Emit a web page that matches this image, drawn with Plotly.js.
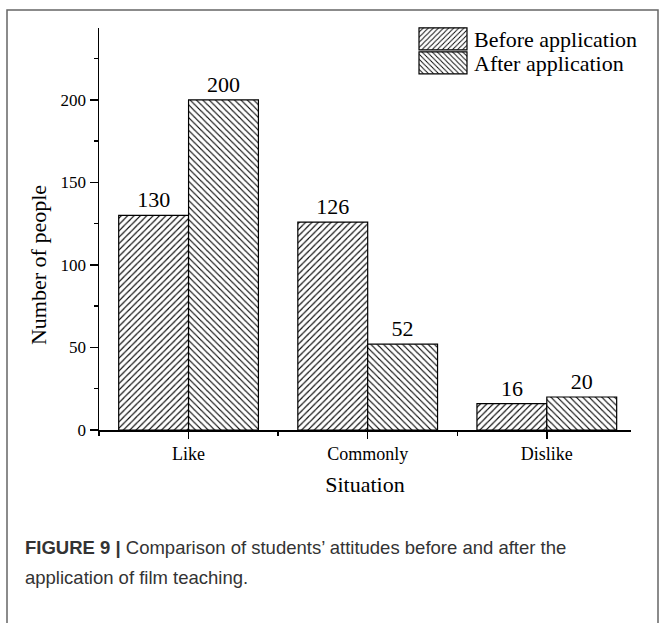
<!DOCTYPE html>
<html>
<head>
<meta charset="utf-8">
<script src="https://cdn.plot.ly/plotly-3.0.1.min.js"></script>
<style>html,body{margin:0;padding:0;background:#fff;}#chart{width:659px;height:623px;}</style>
</head>
<body>
<div id="chart"></div>
<script>
// ---- data ----
const categories = ['Like', 'Commonly', 'Dislike'];
const seriesNames = ['Before application', 'After application'];
const beforeValues = [130, 126, 16];
const afterValues = [200, 52, 20];
const yTickVals = [0, 50, 100, 150, 200];
const captionBold = 'FIGURE 9 |';
const captionLine1 = 'Comparison of students\u2019 attitudes before and after the';
const captionLine2 = 'application of film teaching.';
const xTitle = 'Situation';
const yTitle = 'Number of people';

// ---- layout geometry ----
const W = 659, H = 623;
const M = {l: 99, r: 28, t: 28, b: 193};
const PW = W - M.l - M.r, PH = H - M.t - M.b;
const px2x = p => (p - M.l) / PW;
const py2y = p => (H - M.b - p) / PH;

const serif = 'Liberation Serif, Times New Roman, serif';
const sans = 'Liberation Sans, Arial, sans-serif';
const xIdx = categories.map((c, i) => i);

function barTrace(name, vals, shape) {
  return {
    type: 'bar', name: name, x: xIdx, y: vals,
    text: vals.map(String), textposition: 'outside', cliponaxis: false,
    textfont: {family: serif, size: 22, color: '#000'},
    marker: {
      color: 'white',
      line: {color: '#000', width: 1.2},
      pattern: {shape: shape, fgcolor: '#000', bgcolor: 'white', size: 4.5, solidity: 0.25, fillmode: 'replace'}
    },
    hoverinfo: 'skip'
  };
}

const data = [
  barTrace(seriesNames[0], beforeValues, '/'),
  barTrace(seriesNames[1], afterValues, '\\')
];

const layout = {
  width: W, height: H,
  margin: M,
  paper_bgcolor: 'white', plot_bgcolor: 'white',
  barmode: 'group', bargap: 0.22, bargroupgap: 0,
  showlegend: true,
  legend: {
    x: px2x(412), y: py2y(18), xanchor: 'left', yanchor: 'top',
    font: {family: serif, size: 22, color: '#000'},
    bgcolor: 'rgba(0,0,0,0)', borderwidth: 0,
    itemwidth: 52, tracegroupgap: 0, itemclick: false
  },
  xaxis: {
    range: [-0.5, 2.47], tickmode: 'array', tickvals: xIdx, ticktext: categories,
    ticks: 'outside', ticklen: 7, tickwidth: 1.5, tickcolor: '#000',
    minor: {tickmode: 'array', tickvals: [-0.5].concat(xIdx.slice(0, -1).map(i => i + 0.5)), ticks: 'outside', ticklen: 4, tickwidth: 1.5, tickcolor: '#000', showgrid: false},
    showline: true, linecolor: '#000', linewidth: 1.5,
    showgrid: false, zeroline: false, fixedrange: true,
    tickfont: {family: serif, size: 18, color: '#000'},
    title: {text: xTitle, font: {family: serif, size: 22, color: '#000'}, standoff: 13}
  },
  yaxis: {
    range: [0, 243.6], tickmode: 'array', tickvals: yTickVals,
    ticks: 'outside', ticklen: 8, tickwidth: 1.5, tickcolor: '#000',
    minor: {dtick: 25, tick0: 0, ticks: 'outside', ticklen: 4, tickwidth: 1.5, tickcolor: '#000', showgrid: false},
    showline: true, linecolor: '#000', linewidth: 1.5,
    showgrid: false, zeroline: false, fixedrange: true,
    tickfont: {family: serif, size: 17, color: '#000'},
    title: {text: yTitle, font: {family: serif, size: 22, color: '#000'}, standoff: 8}
  },
  shapes: [{
    type: 'rect', xref: 'paper', yref: 'paper',
    x0: px2x(7), x1: px2x(658), y0: py2y(640), y1: py2y(10),
    line: {color: '#666', width: 1.5}, fillcolor: 'rgba(0,0,0,0)', layer: 'below'
  }],
  annotations: [
    {xref: 'paper', yref: 'paper', x: px2x(23), y: py2y(547), xanchor: 'left', yanchor: 'middle', showarrow: false, align: 'left',
     text: '<b>' + captionBold + '</b> ' + captionLine1, font: {family: sans, size: 18.5, color: '#333'}},
    {xref: 'paper', yref: 'paper', x: px2x(23), y: py2y(577), xanchor: 'left', yanchor: 'middle', showarrow: false, align: 'left',
     text: captionLine2, font: {family: sans, size: 18.5, color: '#333'}}
  ]
};

Plotly.newPlot('chart', data, layout, {displayModeBar: false, staticPlot: true}).then(function (gd) {
  // wide hatched legend swatches, tightly stacked as in the reference
  gd.querySelectorAll('.legend .legendpoints path').forEach(function (p) {
    p.setAttribute('d', 'M24,11H-24V-11H24Z');
    p.style.strokeWidth = '1.2px';
  });
  const items = gd.querySelectorAll('.legend .traces');
  let y0 = null;
  items.forEach(function (g, i) {
    const m = /translate\(([-\d.]+)[ ,]+([-\d.]+)\)/.exec(g.getAttribute('transform') || '');
    if (!m) return;
    if (y0 === null) y0 = parseFloat(m[2]);
    g.setAttribute('transform', 'translate(' + m[1] + ',' + (y0 + 24 * i) + ')');
  });
  // the reference centres its y title on the 0–200 tick span
  const yt = gd.querySelector('.g-ytitle text');
  if (yt) yt.setAttribute('transform', 'translate(0,36) ' + (yt.getAttribute('transform') || ''));
});
</script>
</body>
</html>
